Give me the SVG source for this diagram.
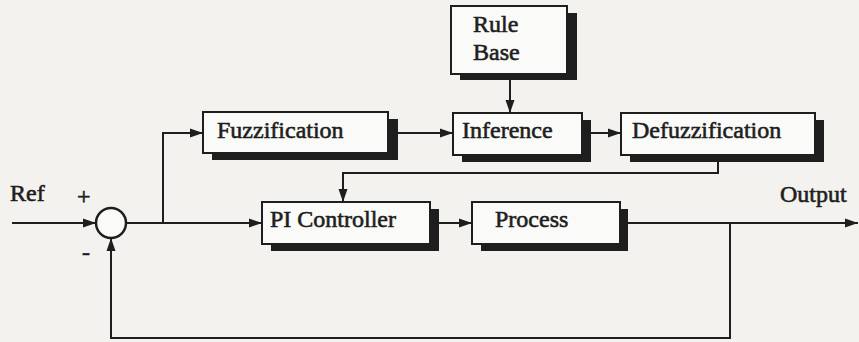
<svg xmlns="http://www.w3.org/2000/svg" width="859" height="342" viewBox="0 0 859 342">
  <style>
    .bg { fill: #f3f2ef; }
    .shadow { fill: #1e1e1e; }
    .box { fill: #fafaf8; stroke: #1e1e1e; stroke-width: 2; }
    .label { font-family: "Liberation Serif", "Times New Roman", serif; font-size: 24px; fill: #1e1e1e; stroke: #1e1e1e; stroke-width: 0.6; }
    .wire { fill: none; stroke: #1e1e1e; stroke-width: 2; }
    .sum { fill: #fafaf8; stroke: #1e1e1e; stroke-width: 2.5; }
  </style>
  <defs>
    <marker id="arrow" markerWidth="14" markerHeight="10" refX="13" refY="5" orient="auto" markerUnits="userSpaceOnUse">
      <path d="M0,0.5 L13,5 L0,9.5 Z" fill="#1e1e1e"/>
    </marker>
  </defs>

  <rect class="bg" x="0" y="0" width="859" height="342"/>

  <!-- blocks: dark offset shadow behind each box -->
  <g id="rule-base">
    <rect class="shadow" x="460" y="13" width="117" height="67"/>
    <rect class="box" x="451" y="6" width="116" height="68"/>
    <text class="label" x="473" y="32">Rule</text>
    <text class="label" x="473" y="60">Base</text>
  </g>
  <g id="fuzzification">
    <rect class="shadow" x="212" y="119" width="186" height="41"/>
    <rect class="box" x="203" y="112" width="185" height="41"/>
    <text class="label" x="217" y="138">Fuzzification</text>
  </g>
  <g id="inference">
    <rect class="shadow" x="462" y="120" width="129" height="42"/>
    <rect class="box" x="453" y="113" width="129" height="42"/>
    <text class="label" x="462" y="138">Inference</text>
  </g>
  <g id="defuzzification">
    <rect class="shadow" x="630" y="120" width="194" height="42"/>
    <rect class="box" x="621" y="113" width="194" height="42"/>
    <text class="label" x="632" y="138">Defuzzification</text>
  </g>
  <g id="pi-controller">
    <rect class="shadow" x="271" y="209" width="168" height="42"/>
    <rect class="box" x="262" y="202" width="168" height="42"/>
    <text class="label" x="270" y="227">PI Controller</text>
  </g>
  <g id="process">
    <rect class="shadow" x="481" y="209" width="147" height="42"/>
    <rect class="box" x="472" y="202" width="148" height="42"/>
    <text class="label" x="495" y="227">Process</text>
  </g>
  <g id="summing-junction">
    <circle class="sum" cx="111" cy="223" r="15"/>
    <text class="label" x="77" y="204">+</text>
    <text class="label" x="82" y="260">-</text>
  </g>
  <g id="signals">
    <text class="label" x="10" y="201">Ref</text>
    <text class="label" x="780" y="202">Output</text>
  </g>

  <g id="connectors">
    <path class="wire" d="M12,223 L96,223" marker-end="url(#arrow)"/>
    <path class="wire" d="M126,223 L262,223" marker-end="url(#arrow)"/>
    <path class="wire" d="M163,223 L163,133 L203,133" marker-end="url(#arrow)"/>
    <path class="wire" d="M398,133 L453,133" marker-end="url(#arrow)"/>
    <path class="wire" d="M510,80 L510,113" marker-end="url(#arrow)"/>
    <path class="wire" d="M591,133 L621,133" marker-end="url(#arrow)"/>
    <path class="wire" d="M718,162 L718,173 L343,173 L343,202" marker-end="url(#arrow)"/>
    <path class="wire" d="M439,223 L472,223" marker-end="url(#arrow)"/>
    <path class="wire" d="M628,223 L858,223" marker-end="url(#arrow)"/>
    <path class="wire" d="M730,223 L730,338 L111,338 L111,238" marker-end="url(#arrow)"/>
  </g>
</svg>
